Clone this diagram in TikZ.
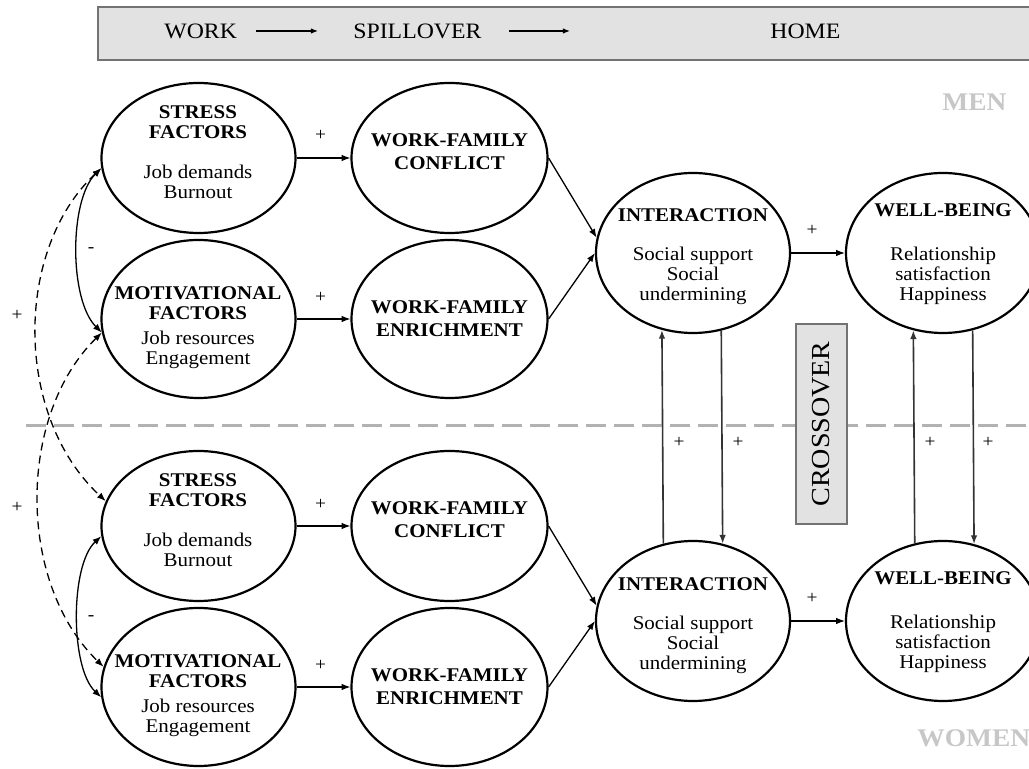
\documentclass[tikz,border=0pt]{standalone}
\usepackage{fontspec}
\setmainfont{Liberation Serif}[FakeStretch=1.08]
\usetikzlibrary{shapes.geometric,arrows.meta}

\definecolor{boxgray}{gray}{0.885}
\definecolor{boxline}{gray}{0.45}
\definecolor{sepgray}{gray}{0.70}
\definecolor{taggray}{gray}{0.78}

\begin{document}
\begin{tikzpicture}[x=0.5pt, y=-0.5pt,
  oval/.style 2 args={ellipse, draw, line width=1.1pt, inner sep=0pt,
                      minimum width=#1, minimum height=#2},
  blk/.style={font=\fontsize{9.7pt}{10pt}\selectfont, align=center, inner sep=0pt},
  bandtxt/.style={font=\fontsize{11pt}{12pt}\selectfont, inner sep=0pt},
  tag/.style={font=\fontsize{12.7pt}{14pt}\selectfont\bfseries, text=taggray, inner sep=0pt, anchor=west},
  sign/.style={font=\fontsize{9pt}{10pt}\selectfont, inner sep=0pt},
  tip/.tip={Latex[length=4.4pt,width=3.3pt]},
  arr/.style={-tip, line width=0.65pt},
  darr/.style={tip-tip, line width=0.65pt},
  dcurve/.style={tip-tip, line width=0.65pt, dash pattern=on 4pt off 2.6pt},
  cross/.style={-tip, line width=0.8pt, draw=black!80},
  barr/.style={-{Latex[length=3.6pt,width=2.8pt]}, line width=0.6pt},
  sepline/.style={draw=sepgray, line width=1.5pt, dash pattern=on 10pt off 4pt},
  graybox/.style={draw=boxline, fill=boxgray, line width=0.8pt, inner sep=0pt}
]
\useasboundingbox (0,0) rectangle (1029,769);

% ---------- header band ----------
\node[graybox, anchor=north west, minimum width=475pt, minimum height=26.5pt] (band) at (97,6) {};
\node[bandtxt, anchor=west] (work) at (164,31) {WORK};
\node[bandtxt, anchor=west] (spill) at (353,31) {SPILLOVER};
\node[bandtxt, anchor=west] (home) at (770,31) {HOME};
\draw[barr, shorten <=9.5pt, shorten >=17.5pt] (work.east) -- (spill.west);
\draw[barr, shorten <=13.5pt, shorten >=100pt] (spill.east) -- (home.west);

% ---------- group tags ----------
\node[tag] (men) at (942,102) {MEN};
\node[tag] (women) at (917,738) {WOMEN};

% ---------- separator between the two partners ----------
\coordinate (sepL) at (26,426);
\coordinate (sepR) at (1029,426);
\draw[sepline] (sepL) -- (sepR);

% ---------- crossover label ----------
\node[graybox, rotate=90, minimum width=100pt, minimum height=25.5pt,
      font=\fontsize{13pt}{14pt}\selectfont] (crossbox) at (821.5,424) {CROSSOVER};

% ---------- ovals: men ----------
\node[oval={97pt}{75pt}] (sf1)  at (198.5,158) {};
\node[oval={97pt}{79pt}] (mf1)  at (198.5,319) {};
\node[oval={98pt}{75pt}] (wfc1) at (449.5,158) {};
\node[oval={98pt}{79pt}] (wfe1) at (449.5,319) {};
\node[oval={97pt}{80pt}] (int1) at (693,253) {};
\node[oval={97pt}{80pt}] (wb1)  at (943,253) {};

% ---------- ovals: women ----------
\node[oval={97pt}{75pt}] (sf2)  at (198.5,526) {};
\node[oval={97pt}{79pt}] (mf2)  at (198.5,687) {};
\node[oval={98pt}{75pt}] (wfc2) at (449.5,526) {};
\node[oval={98pt}{79pt}] (wfe2) at (449.5,687) {};
\node[oval={97pt}{80pt}] (int2) at (693,621) {};
\node[oval={97pt}{80pt}] (wb2)  at (943,621) {};

% ---------- oval contents ----------
\node[blk] (sf1t)  at (198,152)   {\textbf{STRESS}\\\textbf{FACTORS}\\[10pt]Job demands\\Burnout};
\node[blk] (mf1t)  at (198,328)   {\textbf{MOTIVATIONAL}\\\textbf{FACTORS}\\[2.5pt]Job resources\\Engagement};
\node[blk] (wfc1t) at (449.5,151.5) {\textbf{WORK-FAMILY}\\[1.5pt]\textbf{CONFLICT}};
\node[blk] (wfe1t) at (449.5,318.5) {\textbf{WORK-FAMILY}\\[1.5pt]\textbf{ENRICHMENT}};
\node[blk] (int1t) at (693,257)   {\textbf{INTERACTION}\\[9.5pt]Social support\\Social\\undermining};
\node[blk] (wb1t)  at (943,254)   {\textbf{WELL-BEING}\\[12pt]Relationship\\satisfaction\\Happiness};

\node[blk] (sf2t)  at (198,520)   {\textbf{STRESS}\\\textbf{FACTORS}\\[10pt]Job demands\\Burnout};
\node[blk] (mf2t)  at (198,696)   {\textbf{MOTIVATIONAL}\\\textbf{FACTORS}\\[2.5pt]Job resources\\Engagement};
\node[blk] (wfc2t) at (449.5,519.5) {\textbf{WORK-FAMILY}\\[1.5pt]\textbf{CONFLICT}};
\node[blk] (wfe2t) at (449.5,686.5) {\textbf{WORK-FAMILY}\\[1.5pt]\textbf{ENRICHMENT}};
\node[blk] (int2t) at (693,626)   {\textbf{INTERACTION}\\[9.5pt]Social support\\Social\\undermining};
\node[blk] (wb2t)  at (943,622)   {\textbf{WELL-BEING}\\[12pt]Relationship\\satisfaction\\Happiness};

% ---------- spillover paths ----------
\draw[arr] (sf1) -- (wfc1) node[sign, midway, xshift=-1.5pt, yshift=11.5pt] (p1) {+};
\draw[arr] (mf1) -- (wfe1) node[sign, midway, xshift=-1.5pt, yshift=11pt] (p2) {+};
\draw[arr] (sf2) -- (wfc2) node[sign, midway, xshift=-1.5pt, yshift=11pt] (p3) {+};
\draw[arr] (mf2) -- (wfe2) node[sign, midway, xshift=-1.5pt, yshift=11pt] (p4) {+};

\draw[arr] (wfc1.east) -- (int1.171);
\draw[arr] (wfe1.east) -- (int1.west);
\draw[arr] (wfc2.east) -- (int2.171);
\draw[arr] (wfe2.east) -- (int2.west);

\draw[arr] (int1) -- (wb1) node[sign, midway, xshift=-3pt, yshift=11.5pt] (p5) {+};
\draw[arr] (int2) -- (wb2) node[sign, midway, xshift=-3pt, yshift=11.5pt] (p6) {+};

% ---------- crossover paths ----------
\draw[cross] (int2.111.5) -- (int1.248.5);
\draw[cross] (int1.290.8) -- (int2.69.2);
\draw[cross] (wb2.110.8) -- (wb1.249.2);
\draw[cross] (wb1.291.5) -- (wb2.68.5);
\node[sign] (c1) at (679,442) {+};
\node[sign] (c2) at (738,442) {+};
\node[sign] (c3) at (930,442) {+};
\node[sign] (c4) at (988,442) {+};

% ---------- correlations among work factors ----------
\draw[darr] (sf1.186) .. controls (69,200) and (69,300) .. (mf1.188);
\draw[darr] (sf2.186) .. controls (70,565) and (70,668) .. (mf2.186);
\draw[dcurve] (sf1.186) .. controls (14,250) and (14,416) .. (sf2.165);
\draw[dcurve] (mf1.188) .. controls (17,416) and (17,583) .. (mf2.168);
\node[sign] (m1) at (91,250) {-};
\node[sign] (m2) at (91,618) {-};
\node[sign] (q1) at (17,315) {+};
\node[sign] (q2) at (17,507) {+};
\end{tikzpicture}
\end{document}
